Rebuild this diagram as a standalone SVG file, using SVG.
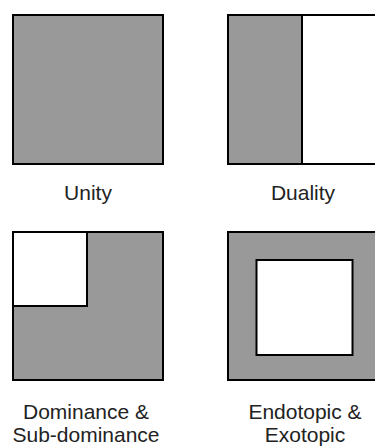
<svg xmlns="http://www.w3.org/2000/svg" width="375" height="447" viewBox="0 0 375 447">
<style>
.g{fill:#999999;stroke:#000;stroke-width:2}
.w{fill:#ffffff;stroke:#000;stroke-width:2}
text{font-family:"Liberation Sans",Arial,sans-serif;font-size:21px;fill:#222;text-anchor:middle}
</style>
<rect width="375" height="447" fill="#fff"/>
<g id="unity">
<rect class="g" x="13" y="15" width="150" height="149"/>
<text x="88" y="200">Unity</text>
</g>
<g id="duality">
<rect class="w" x="228" y="15" width="150" height="149"/>
<rect class="g" x="228" y="15" width="74" height="149"/>
<text x="303" y="200">Duality</text>
</g>
<g id="dominance">
<rect class="g" x="13" y="232" width="150" height="148"/>
<rect class="w" x="13" y="232" width="74" height="74"/>
<text x="86" y="419">Dominance &amp;</text>
<text x="86" y="442">Sub-dominance</text>
</g>
<g id="endotopic">
<rect class="g" x="228" y="232" width="150" height="148"/>
<rect class="w" x="256.5" y="260" width="96" height="95"/>
<text x="305" y="419">Endotopic &amp;</text>
<text x="305" y="442">Exotopic</text>
</g>
<g id="connectors"/>
</svg>
